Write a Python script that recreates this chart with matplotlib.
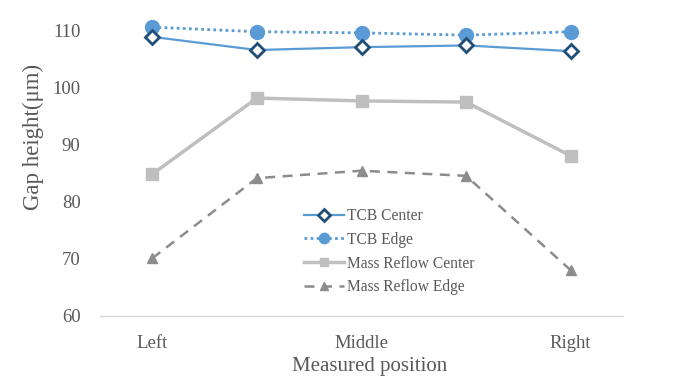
import matplotlib
matplotlib.use("Agg")
import matplotlib.pyplot as plt

positions = ["Left", "", "Middle", "", "Right"]
tcb_center = [108.8, 106.5, 107.0, 107.3, 106.3]
tcb_edge = [110.5, 109.7, 109.5, 109.1, 109.7]
mr_center = [84.8, 98.1, 97.6, 97.4, 88.0]
mr_edge = [70.1, 84.1, 85.4, 84.5, 68.0]

plt.rcParams['font.family'] = ['Liberation Serif', 'DejaVu Serif']
txt = '#595959'

fig = plt.figure(figsize=(6.86, 3.92), dpi=100)
ax = fig.add_axes([100/686, 1-316/392, 523/686, 286/392])
x = list(range(len(positions)))

ax.plot(x, tcb_center, color='#5B9BD5', lw=1.6, marker='D', ms=7.5,
        mfc='white', mec='#1F4E79', mew=2, label='TCB Center', clip_on=False, zorder=4)
ax.plot(x, tcb_edge, color='#5B9BD5', lw=2, ls=(0, (1, 1.2)), marker='o', ms=10,
        mfc='#5B9BD5', mec='#5B9BD5', label='TCB Edge', clip_on=False, zorder=3)
ax.plot(x, mr_center, color='#BFBFBF', lw=2.5, marker='s', ms=8.5,
        mfc='#BFBFBF', mec='#BFBFBF', label='Mass Reflow Center', clip_on=False, zorder=2)
ax.plot(x, mr_edge, color='#8C8C8C', lw=1.8, ls=(0, (4, 3)), marker='^', ms=7,
        mfc='#8C8C8C', mec='#8C8C8C', label='Mass Reflow Edge', clip_on=False, zorder=2)

ax.set_xlim(-0.5, len(positions) - 0.5)
ax.set_ylim(60, 110)
ax.set_yticks([60, 70, 80, 90, 100, 110])
ax.set_xticks(x)
ax.set_xticklabels(positions)
ax.tick_params(axis='both', length=0, labelsize=13.5, colors=txt)
ax.tick_params(axis='x', pad=14)
ax.tick_params(axis='y', pad=14)
for s in ['top', 'right', 'left']:
    ax.spines[s].set_visible(False)
ax.spines['bottom'].set_color('#D9D9D9')
ax.spines['bottom'].set_linewidth(1)

ax.set_xlabel('Measured position', fontsize=15, color=txt)
ax.set_ylabel('Gap height(μm)', fontsize=16.5, color=txt)
ax.xaxis.set_label_coords((370-100)/523, -(366-316)/286, transform=ax.transAxes)
ax.xaxis.label.set_va('center')
ax.yaxis.set_label_coords(-(100-33)/523, (316-137)/286, transform=ax.transAxes)
ax.yaxis.label.set_va('center')

leg = fig.legend(loc='upper left', bbox_to_anchor=(290/686, 1-194/392), frameon=False,
                 fontsize=11.2, handlelength=2.6, handletextpad=0.15, labelspacing=0.5,
                 markerscale=0.75)
for t in leg.get_texts():
    t.set_color(txt)

fig.savefig('out.png', dpi=100)
